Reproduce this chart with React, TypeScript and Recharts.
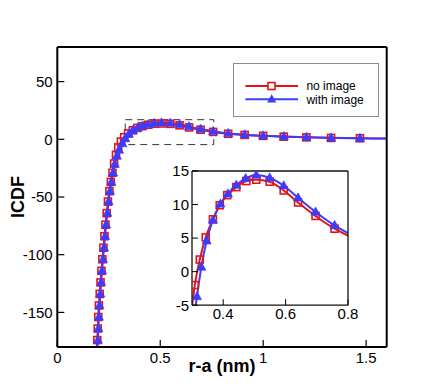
import React from 'react';
import { ComposedChart, Line, XAxis, YAxis, ReferenceArea, Legend } from 'recharts';

const RED = '#e1141c';
const BLUE = '#3a3cff';
const FONT = '"Liberation Sans", Arial, Helvetica, sans-serif';

// r-a (nm) and ICDF at the plotted symbols; the last entry is the curve end (no symbol)
const noImageR = [0.192, 0.194, 0.1965, 0.199, 0.202, 0.206, 0.21, 0.2145, 0.219, 0.224, 0.229, 0.234, 0.24, 0.246, 0.253, 0.26, 0.268, 0.276, 0.285, 0.296, 0.309, 0.325, 0.344, 0.367, 0.389, 0.413, 0.442, 0.474, 0.506, 0.549, 0.594, 0.64, 0.696, 0.757, 0.83, 0.91, 1.0, 1.1, 1.21, 1.33, 1.47, 1.6];
const noImageIcdf = [-184, -174, -164, -154, -144, -134, -124, -114, -104, -94, -84, -74, -64, -54, -45, -37, -29, -21, -13.5, -7.0, -2.0, 1.8, 5.1, 7.8, 9.9, 11.4, 12.6, 13.5, 13.7, 13.4, 12.1, 10.3, 8.3, 6.4, 4.8, 3.8, 3.0, 2.3, 1.7, 1.2, 0.9, 0.6];
const withImageR = [0.195, 0.197, 0.1995, 0.202, 0.205, 0.209, 0.213, 0.2175, 0.222, 0.227, 0.232, 0.237, 0.243, 0.249, 0.256, 0.263, 0.271, 0.279, 0.289, 0.3, 0.316, 0.33, 0.347, 0.367, 0.391, 0.415, 0.442, 0.472, 0.506, 0.549, 0.594, 0.64, 0.696, 0.757, 0.83, 0.91, 1.0, 1.1, 1.21, 1.33, 1.47, 1.6];
const withImageIcdf = [-184, -174, -164, -154, -144, -134, -124, -114, -104, -94, -84, -74, -64, -54, -45, -37, -29, -21.5, -14.5, -9.3, -3.7, 0.7, 4.6, 7.7, 10.1, 11.6, 12.9, 13.9, 14.4, 14.0, 12.8, 11.0, 8.9, 6.9, 5.1, 4.0, 3.1, 2.4, 1.8, 1.3, 0.9, 0.6];
const seriesNames = ['no image', 'with image'];

const mainXTicks = [0, 0.5, 1, 1.5];
const mainXMinor = [0.1, 0.2, 0.3, 0.4, 0.6, 0.7, 0.8, 0.9, 1.1, 1.2, 1.3, 1.4];
const mainYTicks = [-150, -100, -50, 0, 50];
const mainYMinor = [-170, -160, -140, -130, -120, -110, -90, -80, -70, -60, -40, -30, -20, -10, 10, 20, 30, 40, 60, 70];
const insetXTicks = [0.4, 0.6, 0.8];
const insetXMinor = [0.3333, 0.4667, 0.5333, 0.6667, 0.7333];
const insetYTicks = [-5, 0, 5, 10, 15];
const insetYMinor = [-4, -3, -2, -1, 1, 2, 3, 4, 6, 7, 8, 9, 11, 12, 13, 14];
const zoomBoxR = [0.33, 0.76];
const zoomBoxIcdf = [-4.6, 17];

const noImage = noImageR.map((r, i) => ({ r, icdf: noImageIcdf[i] }));
const withImage = withImageR.map((r, i) => ({ r, icdf: withImageIcdf[i] }));
const lastIdx = noImage.length - 1;

const tickText = { fill: '#000', fontSize: 15, fontFamily: FONT };

const squareDot = (p: any) => {
  if (p.index === lastIdx || p.cx == null) return <g key={`s${p.index}`} />;
  return <rect key={`s${p.index}`} x={p.cx - 3.5} y={p.cy - 3.5} width={7} height={7} fill="none" stroke={RED} strokeWidth={1.6} />;
};

const triangleDot = (p: any) => {
  if (p.index === lastIdx || p.cx == null) return <g key={`t${p.index}`} />;
  const { cx, cy } = p;
  return <polygon key={`t${p.index}`} points={`${cx},${cy - 5} ${cx - 4.6},${cy + 3.2} ${cx + 4.6},${cy + 3.2}`} fill={BLUE} stroke={BLUE} strokeWidth={0.6} />;
};

const XTitle = ({ viewBox }: any) => (
  <text x={viewBox.x + viewBox.width / 2} y={viewBox.y + 25} textAnchor="middle"
    fontSize={18} fontWeight="bold" fontFamily={FONT} fill="#000">r-a (nm)</text>
);

const YTitle = ({ viewBox }: any) => {
  const cx = viewBox.x + 18;
  const cy = viewBox.y + viewBox.height / 2;
  return (
    <text x={cx} y={cy} transform={`rotate(-90 ${cx} ${cy})`} textAnchor="middle" dominantBaseline="central"
      fontSize={18} fontWeight="bold" fontFamily={FONT} fill="#000">ICDF</text>
  );
};

const LegendBox = () => (
  <svg width={146} height={54} style={{ display: 'block' }}>
    <rect x={0.5} y={0.5} width={145} height={53} fill="#fff" stroke="#8c8c8c" />
    {seriesNames.map((name, i) => {
      const y = 23 + i * 13.3;
      const col = i === 0 ? RED : BLUE;
      return (
        <g key={name}>
          <line x1={12.4} x2={65} y1={y} y2={y} stroke={col} strokeWidth={2} />
          {i === 0
            ? <rect x={35} y={y - 3.5} width={7} height={7} fill="#fff" stroke={RED} strokeWidth={1.6} />
            : <polygon points={`38.7,${y - 5} 34.1,${y + 3.2} 43.3,${y + 3.2}`} fill={BLUE} />}
          <text x={73.4} y={y} dy="0.36em" fontSize={12} fontFamily={FONT} fill="#000">{name}</text>
        </g>
      );
    })}
  </svg>
);

export default function App() {
  return (
    <div style={{ position: 'absolute', left: 0, top: 0, width: 440, height: 392, background: '#fff' }}>
      <ComposedChart width={440} height={392} margin={{ top: 47, right: 53.3, bottom: 15, left: 0 }}>
        <XAxis xAxisId="m" type="number" dataKey="r" domain={[0, 1.6]} ticks={mainXTicks} interval={0}
          allowDataOverflow height={30} tickSize={-7} tickMargin={12.5}
          axisLine={{ stroke: '#000', strokeWidth: 2 }} tickLine={{ stroke: '#000', strokeWidth: 1.2 }}
          tick={tickText} label={XTitle} />
        <XAxis xAxisId="mMinor" type="number" domain={[0, 1.6]} ticks={mainXMinor} interval={0}
          allowDataOverflow mirror height={10} tickSize={4} tick={false} axisLine={false}
          tickLine={{ stroke: '#000', strokeWidth: 1 }} />
        <XAxis xAxisId="mTop" orientation="top" type="number" domain={[0, 1.6]} ticks={[0]}
          allowDataOverflow mirror height={10} tick={false} tickLine={false}
          axisLine={{ stroke: '#000', strokeWidth: 2 }} />
        <YAxis yAxisId="m" type="number" domain={[-180, 80]} ticks={mainYTicks} interval={0}
          allowDataOverflow width={57.3} tickSize={-7} tickMargin={11.6}
          axisLine={{ stroke: '#000', strokeWidth: 2 }} tickLine={{ stroke: '#000', strokeWidth: 1.2 }}
          tick={tickText} label={YTitle} />
        <YAxis yAxisId="mMinor" type="number" domain={[-180, 80]} ticks={mainYMinor} interval={0}
          allowDataOverflow mirror width={10} tickSize={4} tick={false} axisLine={false}
          tickLine={{ stroke: '#000', strokeWidth: 1 }} />
        <YAxis yAxisId="mRight" orientation="right" type="number" domain={[-180, 80]} ticks={[0]}
          allowDataOverflow mirror width={10} tick={false} tickLine={false}
          axisLine={{ stroke: '#000', strokeWidth: 2 }} />
        <ReferenceArea xAxisId="m" yAxisId="m" x1={zoomBoxR[0]} x2={zoomBoxR[1]} y1={zoomBoxIcdf[0]} y2={zoomBoxIcdf[1]}
          fill="none" fillOpacity={0} stroke="#333" strokeWidth={1} strokeDasharray="7 5" ifOverflow="visible" />
        <Line xAxisId="m" yAxisId="m" data={noImage} dataKey="icdf" name={seriesNames[0]} type="monotone"
          stroke={RED} strokeWidth={2} dot={squareDot} activeDot={false} isAnimationActive={false} />
        <Line xAxisId="m" yAxisId="m" data={withImage} dataKey="icdf" name={seriesNames[1]} type="monotone"
          stroke={BLUE} strokeWidth={2} dot={triangleDot} activeDot={false} isAnimationActive={false} />
        <Legend layout="vertical" align="center" verticalAlign="middle" width={146} height={54}
          wrapperStyle={{ left: 233, top: 63, width: 146, height: 54 }} content={LegendBox} />
      </ComposedChart>

      <div style={{ position: 'absolute', left: 152.3, top: 163.3 }}>
        <ComposedChart width={206} height={167.2} margin={{ top: 8, right: 10, bottom: 0, left: 0 }}>
          <XAxis xAxisId="i" type="number" dataKey="r" domain={[0.3, 0.8]} ticks={insetXTicks} interval={0}
            allowDataOverflow height={25} tickSize={-6} tickMargin={9.2}
            axisLine={{ stroke: '#111', strokeWidth: 1.3 }} tickLine={{ stroke: '#000', strokeWidth: 1 }}
            tick={tickText} />
          <XAxis xAxisId="iMinor" type="number" domain={[0.3, 0.8]} ticks={insetXMinor} interval={0}
            allowDataOverflow mirror height={10} tickSize={3.5} tick={false} axisLine={false}
            tickLine={{ stroke: '#000', strokeWidth: 1 }} />
          <XAxis xAxisId="iTop" orientation="top" type="number" domain={[0.3, 0.8]} ticks={[0.4]}
            allowDataOverflow mirror height={10} tick={false} tickLine={false}
            axisLine={{ stroke: '#111', strokeWidth: 1.3 }} />
          <YAxis yAxisId="i" type="number" domain={[-5, 15]} ticks={insetYTicks} interval={0}
            allowDataOverflow width={40} tickSize={-6} tickMargin={9}
            axisLine={{ stroke: '#111', strokeWidth: 1.3 }} tickLine={{ stroke: '#000', strokeWidth: 1 }}
            tick={tickText} />
          <YAxis yAxisId="iMinor" type="number" domain={[-5, 15]} ticks={insetYMinor} interval={0}
            allowDataOverflow mirror width={10} tickSize={3.5} tick={false} axisLine={false}
            tickLine={{ stroke: '#000', strokeWidth: 1 }} />
          <YAxis yAxisId="iRight" orientation="right" type="number" domain={[-5, 15]} ticks={[0]}
            allowDataOverflow mirror width={10} tick={false} tickLine={false}
            axisLine={{ stroke: '#111', strokeWidth: 1.3 }} />
          <Line xAxisId="i" yAxisId="i" data={noImage} dataKey="icdf" type="monotone"
            stroke={RED} strokeWidth={2} dot={squareDot} activeDot={false} isAnimationActive={false} />
          <Line xAxisId="i" yAxisId="i" data={withImage} dataKey="icdf" type="monotone"
            stroke={BLUE} strokeWidth={2} dot={triangleDot} activeDot={false} isAnimationActive={false} />
        </ComposedChart>
      </div>
    </div>
  );
}
